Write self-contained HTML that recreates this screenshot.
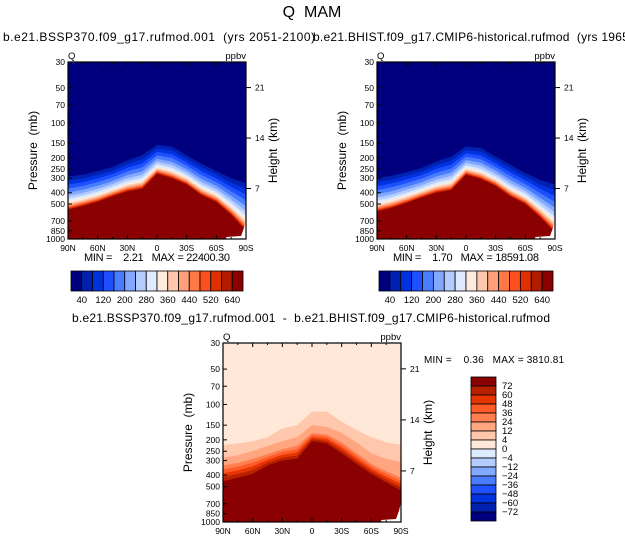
<!DOCTYPE html>
<html><head><meta charset="utf-8">
<style>
html,body{margin:0;padding:0;background:#fff;}
svg{display:block;font-family:"Liberation Sans",sans-serif;}
text{white-space:pre;}
</style></head>
<body>
<svg id="s" width="625" height="543" viewBox="0 0 625 543" xmlns="http://www.w3.org/2000/svg" xml:space="preserve">
<text x="312" y="17" font-size="16" text-anchor="middle">Q  MAM</text>
</svg>
<script>
const lats = [90,75,60,45,30,15,0,-15,-30,-45,-60,-75,-90];
const pTicks = [30,50,70,100,150,200,250,300,400,500,700,850,1000];
const hTicks = [21,14,7];
const latLabels = ['90N','60N','30N','0','30S','60S','90S'];
const seqLabels = ['40','120','200','280','360','440','520','640'];
const diffLabels = ['72','60','48','36','24','12','4','0','-4','-12','-24','-36','-48','-60','-72'];
// panel A (ssp370) contour pressures (mb)
const aTop = [290,280,260,240,210,190,155,160,190,225,260,300,330];
const aBot = [560,520,480,430,390,370,275,300,340,420,480,620,850];
// panel B (historical)
const bTop = [300,285,265,245,215,195,160,165,195,230,270,310,340];
const bBot = [580,540,490,440,400,380,280,305,350,430,500,650,880];
// panel C (difference) contours
const c4  = [220,215,205,190,160,150,115,115,140,165,190,210,220];
const c12 = [285,270,250,225,205,190,150,155,175,210,260,290,310];
const c24 = [330,315,290,265,240,225,175,180,210,260,320,370,420];
const c72 = [450,420,390,330,300,290,205,215,260,320,390,460,540];

const seqCols = ['#00007f','#0020b0','#0032e0','#1e50ff','#4a7cff','#82a8ff','#b4ccff','#dcebff','#ffebdc','#ffc8ac','#ffa07a','#ff7846','#ff4f1e','#e03000','#b01c00','#8b0000'];
const fr = [0,0.12,0.24,0.36,0.48,0.58,0.67,0.74,0.8,0.85,0.89,0.92,0.95,0.975,1];
const svg = document.getElementById('s');
const NS='http://www.w3.org/2000/svg';
function mk(tag, attrs, parent){const e=document.createElementNS(NS,tag);for(const k in attrs)e.setAttribute(k,attrs[k]);(parent||svg).appendChild(e);return e;}
function txt(x,y,s,size,anchor,parent){const t=mk('text',{x:x,y:y,'font-size':size,'text-anchor':anchor||'middle'},parent);t.textContent=s;return t;}

function panel(X0,X1,Y0,Y1,name,bands){
  const g=mk('g',{});
  
  
  const xs=l=>X0+(90-l)/180*(X1-X0);
  const ys=p=>Y0+Math.log(p/30)/Math.log(1000/30)*(Y1-Y0);
  bands(g,xs,ys);
  const m=mk('polygon',{points:`${xs(-70)},${Y1} ${xs(-70)},${Y1-2} ${xs(-85)},${Y1-3} ${xs(-88)},${ys(800)} ${xs(-90)},${ys(680)} ${X1},${Y1}`,fill:'#fff'},g);
  
  
  const f=mk('rect',{x:X0,y:Y0,width:X1-X0,height:Y1-Y0,fill:'none',stroke:'#000','stroke-width':1.2},g);
  
  
  for(let l=90;l>=-90;l-=15){const x=xs(l);const big=l%30===0;
    mk('line',{x1:x,y1:Y1,x2:x,y2:Y1-(big?4:2),stroke:'#000'},g);
    mk('line',{x1:x,y1:Y0,x2:x,y2:Y0+(big?4:2),stroke:'#000'},g);}
  latLabels.forEach((s,i)=>{const t=txt(xs(90-30*i),Y1+12,s,8.5,'middle',g);
    
    });
  pTicks.forEach(p=>{const y=ys(p);mk('line',{x1:X0,y1:y,x2:X0+4,y2:y,stroke:'#000'},g);
    const t=txt(X0-3,y+3,String(p),8.5,'end',g);
    
    });
  hTicks.forEach(h=>{const y=ys(1000*Math.exp(-h/7));mk('line',{x1:X1,y1:y,x2:X1+5,y2:y,stroke:'#000'},g);
    const t=txt(X1+9,y+3,String(h),8.5,'start',g);
    
    });
  const yl=txt(0,0,'Pressure  (mb)',12,'middle',g);yl.setAttribute('transform',`translate(${X0-31},${(Y0+Y1)/2}) rotate(-90)`);
  
  
  const yr=txt(0,0,'Height  (km)',12,'middle',g);yr.setAttribute('transform',`translate(${X1+31},${(Y0+Y1)/2}) rotate(-90)`);
  
  
  const q=txt(X0,Y0-3,'Q',9.5,'start',g);
  const u=txt(X1,Y0-3,'ppbv',9.5,'end',g);
  return {g,xs,ys};
}
function areaBelow(g,xs,ys,arr,fill,X1,Y1,X0){
  let pts=`${X0},${Y1} `;lats.forEach((l,i)=>pts+=`${xs(l)},${ys(arr[i])} `);pts+=`${X1},${Y1}`;
  const p=mk('polygon',{points:pts,fill:fill},g);
  
  
}
function seqPanel(X0,X1,Y0,Y1,top,bot,name){
  panel(X0,X1,Y0,Y1,name,(g,xs,ys)=>{
    mk('rect',{x:X0,y:Y0,width:X1-X0,height:Y1-Y0,fill:seqCols[0]},g);
    for(let k=1;k<16;k++){const f=fr[k-1];
      const arr=top.map((t,i)=>Math.exp(Math.log(t)+(Math.log(bot[i])-Math.log(t))*f));
      areaBelow(g,xs,ys,arr,seqCols[k],X1,Y1,X0);}
  });
}
function hbar(x0,x1,y0,y1,name){
  const g=mk('g',{});
  
  
  const w=(x1-x0)/16;
  seqCols.forEach((c,i)=>mk('rect',{x:x0+i*w,y:y0,width:w,height:y1-y0,fill:c,stroke:'#000','stroke-width':0.8},g));
  seqLabels.forEach((s,i)=>{const t=txt(x0+w*(1+2*i),y1+12,s,9.5,'middle',g);
    });
}
let t;
t=txt(3,41,'b.e21.BSSP370.f09_g17.rufmod.001  (yrs 2051-2100)',12,'start');t.setAttribute('textLength','312');
t=txt(313,41,'b.e21.BHIST.f09_g17.CMIP6-historical.rufmod  (yrs 1965-2014)',12,'start');t.setAttribute('textLength','352');
t=txt(311,322,'b.e21.BSSP370.f09_g17.rufmod.001  -  b.e21.BHIST.f09_g17.CMIP6-historical.rufmod',12,'middle');t.setAttribute('textLength','478');

seqPanel(68,246,62,239,aTop,aBot,'ssp370-panel');
seqPanel(377,555,62,239,bTop,bBot,'historical-panel');
t=txt(84,261,'MIN =    2.21   MAX = 22400.30',11,'start');t.setAttribute('textLength','146');
t=txt(393,261,'MIN =    1.70   MAX = 18591.08',11,'start');t.setAttribute('textLength','146');
hbar(71,243,271,291,'left-colorbar');
hbar(379,553,271,291,'right-colorbar');

const dCols=['#ffe8d8','#ffc8ac','#ffa57f','#ff7f50','#ff5a28','#e53500','#b82000','#8b0000'];
panel(223,401,343,522,'difference-panel',(g,xs,ys)=>{
  mk('rect',{x:223,y:343,width:178,height:179,fill:dCols[0]},g);
  areaBelow(g,xs,ys,c4,dCols[1],401,522,223);
  areaBelow(g,xs,ys,c12,dCols[2],401,522,223);
  areaBelow(g,xs,ys,c24,dCols[3],401,522,223);
  const fd=[0.25,0.5,0.75,1];
  fd.forEach((f,k)=>{const arr=c24.map((a,i)=>Math.exp(Math.log(a)+(Math.log(c72[i])-Math.log(a))*f));
    areaBelow(g,xs,ys,arr,dCols[4+k],401,522,223);});
});
t=txt(424,363,'MIN =    0.36   MAX = 3810.81',10,'start');t.setAttribute('textLength','140');
const vCols=['#8b0000','#b82000','#e53500','#ff5a28','#ff7f50','#ffa57f','#ffc8ac','#ffe8d8','#dcebff','#b4ccff','#82a8ff','#4a7cff','#1e50ff','#0032e0','#0020b0','#00007f'];
const vb=mk('g',{});


const bh=(521-377)/16;
vCols.forEach((c,i)=>mk('rect',{x:471,y:377+i*bh,width:25,height:bh,fill:c,stroke:'#000','stroke-width':0.8},vb));
diffLabels.forEach((s,i)=>{const tt=txt(502,377+(i+1)*bh+3,s.replace('-','\u2212'),9.5,'start',vb);
  });
</script>
</body></html>
